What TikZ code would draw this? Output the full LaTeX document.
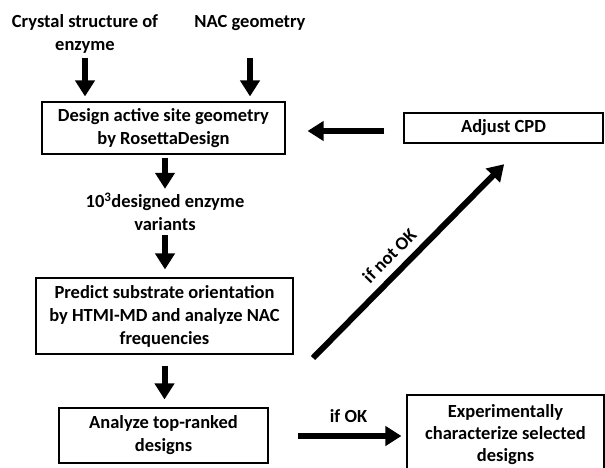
\documentclass[tikz,border=0pt]{standalone}
\usepackage{fontspec}
\setmainfont{Carlito}
\usepackage{tikz}
\usetikzlibrary{arrows.meta,positioning}
\tikzstyle{bigarrow} = [line width=6pt,-{Triangle[width=19pt,length=16pt]}]
\tikzstyle{stepbox} = [draw, line width=1.1pt, align=center, inner sep=0pt, font=\bfseries\fontsize{18.5}{23}\selectfont]
\tikzstyle{label} = [align=center, inner sep=0pt, font=\bfseries\fontsize{18.5}{23}\selectfont]

\begin{document}
\begin{tikzpicture}[x=1pt, y=-1pt]
\useasboundingbox (0,0) rectangle (605,468);
% Inputs on top
\node[label] (crystal) at (85,34) {Crystal structure of\\enzyme};
\node[label] (nac) at (250,23) {NAC geometry};

% Main column
\node[stepbox, minimum width=243pt, minimum height=52pt] (design) at (163.5,128) {Design active site geometry\\by RosettaDesign};
\node[label] (variants) at (165,212) {10\textsuperscript{3}designed enzyme\\variants};
\node[stepbox, minimum width=257pt, minimum height=76pt] (predict) at (164.5,316) {Predict substrate orientation\\by HTMI-MD and analyze NAC\\frequencies};
\node[stepbox, minimum width=209pt, minimum height=55pt] (analyze) at (163.5,435.5) {Analyze top-ranked\\designs};

% Right side
\node[stepbox, minimum width=199pt, minimum height=30pt] (adjust) at (503.5,128) {Adjust CPD};
\node[stepbox, minimum width=197pt, minimum height=80pt, font=\bfseries\fontsize{18.5}{22}\selectfont] (exp) at (505.5,435) {Experimentally\\characterize selected\\designs};
\coordinate (notok) at (313,358);

% Arrows
\draw[bigarrow, shorten <=4pt, shorten >=5pt] (crystal.south) -- (crystal.south |- design.north);
\draw[bigarrow, shorten <=27pt, shorten >=5pt] (nac.south) -- (nac.south |- design.north);
\draw[bigarrow, shorten <=3pt, shorten >=4pt] (design.south -| variants.north) -- (variants.north);
\draw[bigarrow, shorten <=4pt, shorten >=8pt] (variants.south) -- (variants.south |- predict.north);
\draw[bigarrow, shorten <=11pt, shorten >=8pt] (predict.south) -- (predict.south |- analyze.north);
\draw[bigarrow, shorten <=19pt, shorten >=22pt] (adjust.west |- 0,131) -- (design.east |- 0,131);
\draw[bigarrow, shorten >=29pt] (notok) -- node[label, pos=0.42, sloped, above=8pt] {if not OK} ([xshift=21pt]adjust.south);
\draw[bigarrow, shorten <=29pt, shorten >=5pt] (analyze.east |- 0,436) -- node[label, pos=0.58, above=10pt] {if OK} (exp.west |- 0,436);
\end{tikzpicture}
\end{document}
